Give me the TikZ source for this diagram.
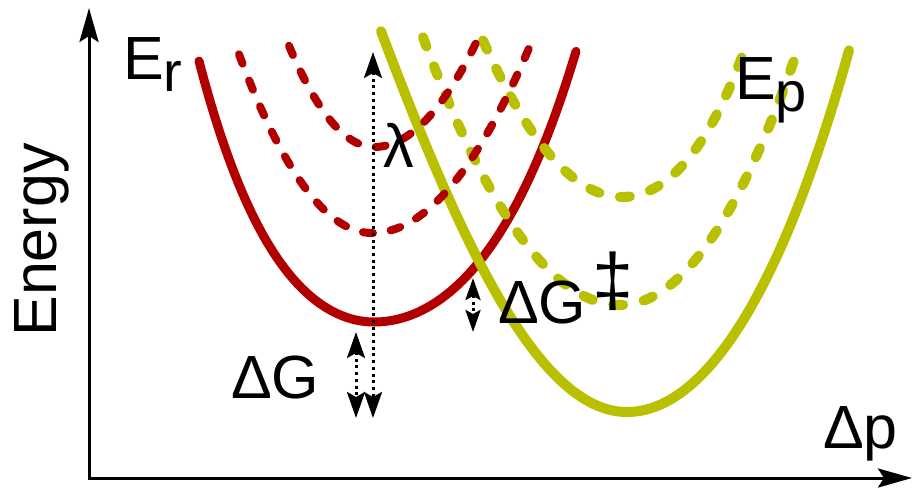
\documentclass[tikz,border=0pt]{standalone}
\usepackage{fontspec}
\setmainfont{Liberation Sans}
\usetikzlibrary{arrows.meta}
\definecolor{rd}{RGB}{178,0,0}
\definecolor{gr}{RGB}{184,192,0}
\begin{document}
\begin{tikzpicture}[x=1pt,y=-1pt,
  declare function={rise(\u,\a,\b)=\a*\u*\u+\b*\u*\u*\u*\u;},
  redsolid/.style={draw=rd,line width=9pt,line cap=round,line join=round},
  reddash/.style={draw=rd,line width=8pt,line cap=round,line join=round,dash pattern=on 10pt off 18pt},
  grsolid/.style={draw=gr,line width=10pt,line cap=round,line join=round},
  grdash/.style={draw=gr,line width=10pt,line cap=round,line join=round,dash pattern=on 10pt off 21pt},
  axisline/.style={line width=3pt,{Stealth[length=34pt,width=19pt,inset=6pt]}-{Stealth[length=34pt,width=19pt,inset=6pt]}},
  dblarrow/.style={line width=3pt,dash pattern=on 3pt off 3.7pt,{Stealth[length=26pt,width=18pt,inset=5pt]}-{Stealth[length=26pt,width=18pt,inset=5pt]}},
  smallarrow/.style={line width=3pt,dash pattern=on 3pt off 3.7pt,{Stealth[length=22pt,width=15pt,inset=4pt]}-{Stealth[length=22pt,width=15pt,inset=4pt]}},
  lbl/.style={inner sep=0pt,font=\fontsize{61}{64}\selectfont},
  biglbl/.style={inner sep=0pt,font=\fontsize{61}{64}\selectfont}
]
\useasboundingbox (0,0) rectangle (913,490);
% curves
\draw[redsolid] plot[domain=199:576,samples=160] (\x,{322-(\x<374 ? rise((374-\x)/100,60.7,8) : rise((\x-374)/100,50,4))});
\draw[grsolid] plot[domain=381:849,samples=180] (\x,{412-(\x<627 ? rise((627-\x)/100,72,-1.5) : rise((\x-627)/100,66,1.5))});
\draw[grdash] plot[domain=483:748,samples=140] (\x,{197-(\x<622 ? rise((622-\x)/100,81,0) : rise((\x-622)/100,83,10))});
\draw[grdash] plot[domain=423:798,samples=170] (\x,{305-(\x<620 ? rise((620-\x)/100,69,0) : rise((\x-620)/100,79,0.6))});
\draw[reddash] plot[domain=239:530,samples=150] (\x,{233-(\x<372 ? rise((372-\x)/100,101,0) : rise((\x-372)/100,75,0))});
\draw[reddash] plot[domain=289:478,samples=120] (\x,{147-(\x<374 ? rise((374-\x)/100,140,0) : rise((\x-374)/100,100,0))});
% axes
\coordinate (O) at (89,478);
\coordinate (ytip) at (89,8);
\coordinate (xtip) at (912,478);
\draw[axisline] (ytip) -- (O) -- (xtip);
% arrows
\coordinate (lamtop) at (373,52);
\coordinate (lambot) at (373,418);
\coordinate (dgtop) at (356,332);
\coordinate (dgbot) at (356,418);
\coordinate (dgttop) at (473,278);
\coordinate (dgtbot) at (473,332);
\draw[dblarrow] (lamtop) -- (lambot);
\draw[dblarrow] (dgtop) -- (dgbot);
\draw[smallarrow] (dgttop) -- (dgtbot);
% labels
\node[lbl,rotate=90,anchor=base] (energy) at (56,240) {Energy};
\node[biglbl,anchor=base west] (er) at (123,79) {E\raisebox{-12pt}{\fontsize{56}{56}\selectfont r}};
\node[biglbl,anchor=base west] (ep) at (735,99) {E\raisebox{-12pt}{\fontsize{56}{56}\selectfont p}};
\node[lbl,anchor=base] (lam) at (399,167) {λ};
\node[lbl,anchor=base west] (dg) at (231,398) {ΔG};
\node[lbl,anchor=base west] (dgt) at (498,323) {ΔG\kern6pt\raisebox{18pt}{\fontsize{74}{74}\selectfont ‡}};
\node[lbl,anchor=base west] (dp) at (823,448) {Δp};
\end{tikzpicture}
\end{document}
